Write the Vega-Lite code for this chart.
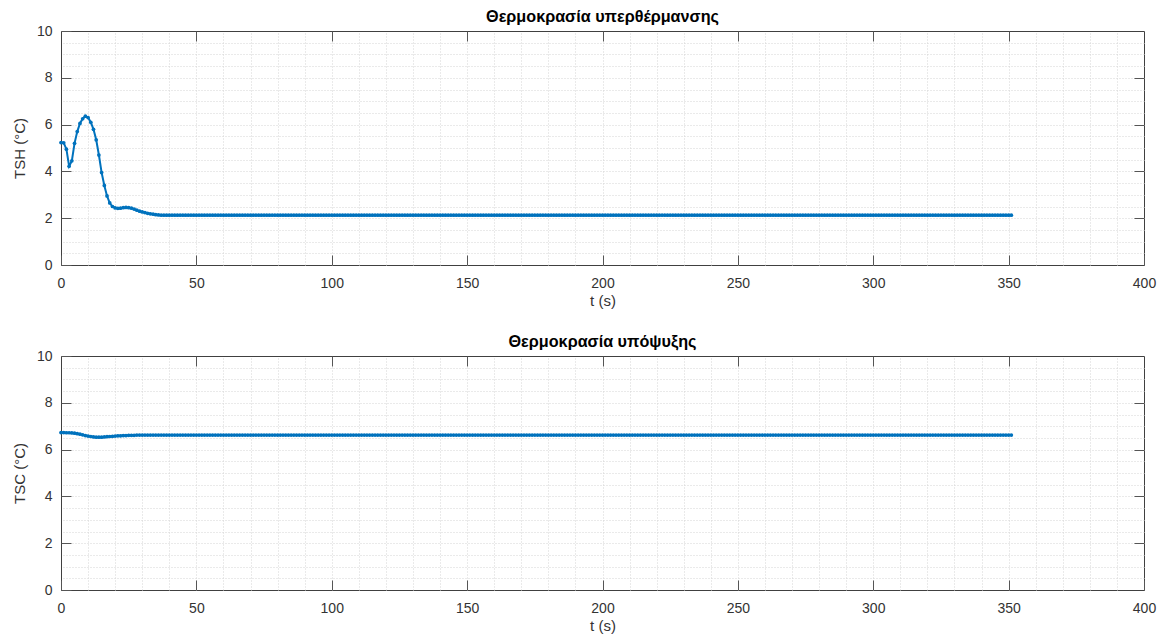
{
"$schema": "https://vega.github.io/schema/vega-lite/v6.json",
"background": "white",
"padding": {"left": 11, "top": 8, "right": 0, "bottom": 3},
"config": {
  "font": "Liberation Sans",
  "view": {"stroke": "#404040", "strokeWidth": 1},
  "axis": {"labelFont": "Liberation Sans", "labelFontSize": 14, "labelColor": "#333333", "labelFlush": false, "titleFont": "Liberation Sans", "titleFontSize": 15, "titleFontWeight": "normal", "titleColor": "#333333", "domain": false, "gridColor": "#d4d4d4", "gridDash": [1, 2], "gridWidth": 1, "tickColor": "#555555", "tickWidth": 1},
  "title": {"font": "Liberation Sans", "fontSize": 16.2, "fontWeight": "bold", "color": "#000000", "offset": -1, "frame": "group", "anchor": "middle"},
  "concat": {"spacing": 24}
},
"data": {"values": [
{"t":0,"sh":5.23,"sc":6.73},{"t":1,"sh":5.22,"sc":6.73},{"t":2,"sh":4.95,"sc":6.72},{"t":3,"sh":4.22,"sc":6.72},{"t":4,"sh":4.45,"sc":6.71},
{"t":5,"sh":5.2,"sc":6.7},{"t":6,"sh":5.7,"sc":6.68},{"t":7,"sh":6.05,"sc":6.66},{"t":8,"sh":6.25,"sc":6.63},{"t":9,"sh":6.36,"sc":6.6},
{"t":10,"sh":6.3,"sc":6.58},{"t":11,"sh":6.1,"sc":6.56},{"t":12,"sh":5.8,"sc":6.54},{"t":13,"sh":5.35,"sc":6.53},{"t":14,"sh":4.7,"sc":6.53},
{"t":15,"sh":3.95,"sc":6.53},{"t":16,"sh":3.4,"sc":6.54},{"t":17,"sh":2.95,"sc":6.55},{"t":18,"sh":2.65,"sc":6.56},{"t":19,"sh":2.5,"sc":6.57},
{"t":20,"sh":2.44,"sc":6.58},{"t":21,"sh":2.42,"sc":6.59},{"t":22,"sh":2.43,"sc":6.59},{"t":23,"sh":2.45,"sc":6.6},{"t":24,"sh":2.46,"sc":6.6},
{"t":25,"sh":2.45,"sc":6.61},{"t":26,"sh":2.43,"sc":6.61},{"t":27,"sh":2.39,"sc":6.61},{"t":28,"sh":2.34,"sc":6.62},{"t":29,"sh":2.3,"sc":6.62},
{"t":30,"sh":2.27,"sc":6.62},{"t":31,"sh":2.24,"sc":6.62},{"t":32,"sh":2.21,"sc":6.62},{"t":33,"sh":2.19,"sc":6.62},{"t":34,"sh":2.17,"sc":6.62},
{"t":35,"sh":2.15,"sc":6.62},{"t":36,"sh":2.14,"sc":6.62},{"t":37,"sh":2.13,"sc":6.62},{"t":38,"sh":2.13,"sc":6.62},{"t":39,"sh":2.13,"sc":6.62},
{"t":40,"sh":2.13,"sc":6.62},{"t":41,"sh":2.13,"sc":6.62},{"t":42,"sh":2.13,"sc":6.62},{"t":43,"sh":2.13,"sc":6.62},{"t":44,"sh":2.13,"sc":6.62},
{"t":45,"sh":2.13,"sc":6.62},{"t":46,"sh":2.13,"sc":6.62},{"t":47,"sh":2.13,"sc":6.62},{"t":48,"sh":2.13,"sc":6.62},{"t":49,"sh":2.13,"sc":6.62},
{"t":50,"sh":2.13,"sc":6.62},{"t":51,"sh":2.13,"sc":6.62},{"t":52,"sh":2.13,"sc":6.62},{"t":53,"sh":2.13,"sc":6.62},{"t":54,"sh":2.13,"sc":6.62},
{"t":55,"sh":2.13,"sc":6.62},{"t":56,"sh":2.13,"sc":6.62},{"t":57,"sh":2.13,"sc":6.62},{"t":58,"sh":2.13,"sc":6.62},{"t":59,"sh":2.13,"sc":6.62},
{"t":60,"sh":2.13,"sc":6.62},{"t":61,"sh":2.13,"sc":6.62},{"t":62,"sh":2.13,"sc":6.62},{"t":63,"sh":2.13,"sc":6.62},{"t":64,"sh":2.13,"sc":6.62},
{"t":65,"sh":2.13,"sc":6.62},{"t":66,"sh":2.13,"sc":6.62},{"t":67,"sh":2.13,"sc":6.62},{"t":68,"sh":2.13,"sc":6.62},{"t":69,"sh":2.13,"sc":6.62},
{"t":70,"sh":2.13,"sc":6.62},{"t":71,"sh":2.13,"sc":6.62},{"t":72,"sh":2.13,"sc":6.62},{"t":73,"sh":2.13,"sc":6.62},{"t":74,"sh":2.13,"sc":6.62},
{"t":75,"sh":2.13,"sc":6.62},{"t":76,"sh":2.13,"sc":6.62},{"t":77,"sh":2.13,"sc":6.62},{"t":78,"sh":2.13,"sc":6.62},{"t":79,"sh":2.13,"sc":6.62},
{"t":80,"sh":2.13,"sc":6.62},{"t":81,"sh":2.13,"sc":6.62},{"t":82,"sh":2.13,"sc":6.62},{"t":83,"sh":2.13,"sc":6.62},{"t":84,"sh":2.13,"sc":6.62},
{"t":85,"sh":2.13,"sc":6.62},{"t":86,"sh":2.13,"sc":6.62},{"t":87,"sh":2.13,"sc":6.62},{"t":88,"sh":2.13,"sc":6.62},{"t":89,"sh":2.13,"sc":6.62},
{"t":90,"sh":2.13,"sc":6.62},{"t":91,"sh":2.13,"sc":6.62},{"t":92,"sh":2.13,"sc":6.62},{"t":93,"sh":2.13,"sc":6.62},{"t":94,"sh":2.13,"sc":6.62},
{"t":95,"sh":2.13,"sc":6.62},{"t":96,"sh":2.13,"sc":6.62},{"t":97,"sh":2.13,"sc":6.62},{"t":98,"sh":2.13,"sc":6.62},{"t":99,"sh":2.13,"sc":6.62},
{"t":100,"sh":2.13,"sc":6.62},{"t":101,"sh":2.13,"sc":6.62},{"t":102,"sh":2.13,"sc":6.62},{"t":103,"sh":2.13,"sc":6.62},{"t":104,"sh":2.13,"sc":6.62},
{"t":105,"sh":2.13,"sc":6.62},{"t":106,"sh":2.13,"sc":6.62},{"t":107,"sh":2.13,"sc":6.62},{"t":108,"sh":2.13,"sc":6.62},{"t":109,"sh":2.13,"sc":6.62},
{"t":110,"sh":2.13,"sc":6.62},{"t":111,"sh":2.13,"sc":6.62},{"t":112,"sh":2.13,"sc":6.62},{"t":113,"sh":2.13,"sc":6.62},{"t":114,"sh":2.13,"sc":6.62},
{"t":115,"sh":2.13,"sc":6.62},{"t":116,"sh":2.13,"sc":6.62},{"t":117,"sh":2.13,"sc":6.62},{"t":118,"sh":2.13,"sc":6.62},{"t":119,"sh":2.13,"sc":6.62},
{"t":120,"sh":2.13,"sc":6.62},{"t":121,"sh":2.13,"sc":6.62},{"t":122,"sh":2.13,"sc":6.62},{"t":123,"sh":2.13,"sc":6.62},{"t":124,"sh":2.13,"sc":6.62},
{"t":125,"sh":2.13,"sc":6.62},{"t":126,"sh":2.13,"sc":6.62},{"t":127,"sh":2.13,"sc":6.62},{"t":128,"sh":2.13,"sc":6.62},{"t":129,"sh":2.13,"sc":6.62},
{"t":130,"sh":2.13,"sc":6.62},{"t":131,"sh":2.13,"sc":6.62},{"t":132,"sh":2.13,"sc":6.62},{"t":133,"sh":2.13,"sc":6.62},{"t":134,"sh":2.13,"sc":6.62},
{"t":135,"sh":2.13,"sc":6.62},{"t":136,"sh":2.13,"sc":6.62},{"t":137,"sh":2.13,"sc":6.62},{"t":138,"sh":2.13,"sc":6.62},{"t":139,"sh":2.13,"sc":6.62},
{"t":140,"sh":2.13,"sc":6.62},{"t":141,"sh":2.13,"sc":6.62},{"t":142,"sh":2.13,"sc":6.62},{"t":143,"sh":2.13,"sc":6.62},{"t":144,"sh":2.13,"sc":6.62},
{"t":145,"sh":2.13,"sc":6.62},{"t":146,"sh":2.13,"sc":6.62},{"t":147,"sh":2.13,"sc":6.62},{"t":148,"sh":2.13,"sc":6.62},{"t":149,"sh":2.13,"sc":6.62},
{"t":150,"sh":2.13,"sc":6.62},{"t":151,"sh":2.13,"sc":6.62},{"t":152,"sh":2.13,"sc":6.62},{"t":153,"sh":2.13,"sc":6.62},{"t":154,"sh":2.13,"sc":6.62},
{"t":155,"sh":2.13,"sc":6.62},{"t":156,"sh":2.13,"sc":6.62},{"t":157,"sh":2.13,"sc":6.62},{"t":158,"sh":2.13,"sc":6.62},{"t":159,"sh":2.13,"sc":6.62},
{"t":160,"sh":2.13,"sc":6.62},{"t":161,"sh":2.13,"sc":6.62},{"t":162,"sh":2.13,"sc":6.62},{"t":163,"sh":2.13,"sc":6.62},{"t":164,"sh":2.13,"sc":6.62},
{"t":165,"sh":2.13,"sc":6.62},{"t":166,"sh":2.13,"sc":6.62},{"t":167,"sh":2.13,"sc":6.62},{"t":168,"sh":2.13,"sc":6.62},{"t":169,"sh":2.13,"sc":6.62},
{"t":170,"sh":2.13,"sc":6.62},{"t":171,"sh":2.13,"sc":6.62},{"t":172,"sh":2.13,"sc":6.62},{"t":173,"sh":2.13,"sc":6.62},{"t":174,"sh":2.13,"sc":6.62},
{"t":175,"sh":2.13,"sc":6.62},{"t":176,"sh":2.13,"sc":6.62},{"t":177,"sh":2.13,"sc":6.62},{"t":178,"sh":2.13,"sc":6.62},{"t":179,"sh":2.13,"sc":6.62},
{"t":180,"sh":2.13,"sc":6.62},{"t":181,"sh":2.13,"sc":6.62},{"t":182,"sh":2.13,"sc":6.62},{"t":183,"sh":2.13,"sc":6.62},{"t":184,"sh":2.13,"sc":6.62},
{"t":185,"sh":2.13,"sc":6.62},{"t":186,"sh":2.13,"sc":6.62},{"t":187,"sh":2.13,"sc":6.62},{"t":188,"sh":2.13,"sc":6.62},{"t":189,"sh":2.13,"sc":6.62},
{"t":190,"sh":2.13,"sc":6.62},{"t":191,"sh":2.13,"sc":6.62},{"t":192,"sh":2.13,"sc":6.62},{"t":193,"sh":2.13,"sc":6.62},{"t":194,"sh":2.13,"sc":6.62},
{"t":195,"sh":2.13,"sc":6.62},{"t":196,"sh":2.13,"sc":6.62},{"t":197,"sh":2.13,"sc":6.62},{"t":198,"sh":2.13,"sc":6.62},{"t":199,"sh":2.13,"sc":6.62},
{"t":200,"sh":2.13,"sc":6.62},{"t":201,"sh":2.13,"sc":6.62},{"t":202,"sh":2.13,"sc":6.62},{"t":203,"sh":2.13,"sc":6.62},{"t":204,"sh":2.13,"sc":6.62},
{"t":205,"sh":2.13,"sc":6.62},{"t":206,"sh":2.13,"sc":6.62},{"t":207,"sh":2.13,"sc":6.62},{"t":208,"sh":2.13,"sc":6.62},{"t":209,"sh":2.13,"sc":6.62},
{"t":210,"sh":2.13,"sc":6.62},{"t":211,"sh":2.13,"sc":6.62},{"t":212,"sh":2.13,"sc":6.62},{"t":213,"sh":2.13,"sc":6.62},{"t":214,"sh":2.13,"sc":6.62},
{"t":215,"sh":2.13,"sc":6.62},{"t":216,"sh":2.13,"sc":6.62},{"t":217,"sh":2.13,"sc":6.62},{"t":218,"sh":2.13,"sc":6.62},{"t":219,"sh":2.13,"sc":6.62},
{"t":220,"sh":2.13,"sc":6.62},{"t":221,"sh":2.13,"sc":6.62},{"t":222,"sh":2.13,"sc":6.62},{"t":223,"sh":2.13,"sc":6.62},{"t":224,"sh":2.13,"sc":6.62},
{"t":225,"sh":2.13,"sc":6.62},{"t":226,"sh":2.13,"sc":6.62},{"t":227,"sh":2.13,"sc":6.62},{"t":228,"sh":2.13,"sc":6.62},{"t":229,"sh":2.13,"sc":6.62},
{"t":230,"sh":2.13,"sc":6.62},{"t":231,"sh":2.13,"sc":6.62},{"t":232,"sh":2.13,"sc":6.62},{"t":233,"sh":2.13,"sc":6.62},{"t":234,"sh":2.13,"sc":6.62},
{"t":235,"sh":2.13,"sc":6.62},{"t":236,"sh":2.13,"sc":6.62},{"t":237,"sh":2.13,"sc":6.62},{"t":238,"sh":2.13,"sc":6.62},{"t":239,"sh":2.13,"sc":6.62},
{"t":240,"sh":2.13,"sc":6.62},{"t":241,"sh":2.13,"sc":6.62},{"t":242,"sh":2.13,"sc":6.62},{"t":243,"sh":2.13,"sc":6.62},{"t":244,"sh":2.13,"sc":6.62},
{"t":245,"sh":2.13,"sc":6.62},{"t":246,"sh":2.13,"sc":6.62},{"t":247,"sh":2.13,"sc":6.62},{"t":248,"sh":2.13,"sc":6.62},{"t":249,"sh":2.13,"sc":6.62},
{"t":250,"sh":2.13,"sc":6.62},{"t":251,"sh":2.13,"sc":6.62},{"t":252,"sh":2.13,"sc":6.62},{"t":253,"sh":2.13,"sc":6.62},{"t":254,"sh":2.13,"sc":6.62},
{"t":255,"sh":2.13,"sc":6.62},{"t":256,"sh":2.13,"sc":6.62},{"t":257,"sh":2.13,"sc":6.62},{"t":258,"sh":2.13,"sc":6.62},{"t":259,"sh":2.13,"sc":6.62},
{"t":260,"sh":2.13,"sc":6.62},{"t":261,"sh":2.13,"sc":6.62},{"t":262,"sh":2.13,"sc":6.62},{"t":263,"sh":2.13,"sc":6.62},{"t":264,"sh":2.13,"sc":6.62},
{"t":265,"sh":2.13,"sc":6.62},{"t":266,"sh":2.13,"sc":6.62},{"t":267,"sh":2.13,"sc":6.62},{"t":268,"sh":2.13,"sc":6.62},{"t":269,"sh":2.13,"sc":6.62},
{"t":270,"sh":2.13,"sc":6.62},{"t":271,"sh":2.13,"sc":6.62},{"t":272,"sh":2.13,"sc":6.62},{"t":273,"sh":2.13,"sc":6.62},{"t":274,"sh":2.13,"sc":6.62},
{"t":275,"sh":2.13,"sc":6.62},{"t":276,"sh":2.13,"sc":6.62},{"t":277,"sh":2.13,"sc":6.62},{"t":278,"sh":2.13,"sc":6.62},{"t":279,"sh":2.13,"sc":6.62},
{"t":280,"sh":2.13,"sc":6.62},{"t":281,"sh":2.13,"sc":6.62},{"t":282,"sh":2.13,"sc":6.62},{"t":283,"sh":2.13,"sc":6.62},{"t":284,"sh":2.13,"sc":6.62},
{"t":285,"sh":2.13,"sc":6.62},{"t":286,"sh":2.13,"sc":6.62},{"t":287,"sh":2.13,"sc":6.62},{"t":288,"sh":2.13,"sc":6.62},{"t":289,"sh":2.13,"sc":6.62},
{"t":290,"sh":2.13,"sc":6.62},{"t":291,"sh":2.13,"sc":6.62},{"t":292,"sh":2.13,"sc":6.62},{"t":293,"sh":2.13,"sc":6.62},{"t":294,"sh":2.13,"sc":6.62},
{"t":295,"sh":2.13,"sc":6.62},{"t":296,"sh":2.13,"sc":6.62},{"t":297,"sh":2.13,"sc":6.62},{"t":298,"sh":2.13,"sc":6.62},{"t":299,"sh":2.13,"sc":6.62},
{"t":300,"sh":2.13,"sc":6.62},{"t":301,"sh":2.13,"sc":6.62},{"t":302,"sh":2.13,"sc":6.62},{"t":303,"sh":2.13,"sc":6.62},{"t":304,"sh":2.13,"sc":6.62},
{"t":305,"sh":2.13,"sc":6.62},{"t":306,"sh":2.13,"sc":6.62},{"t":307,"sh":2.13,"sc":6.62},{"t":308,"sh":2.13,"sc":6.62},{"t":309,"sh":2.13,"sc":6.62},
{"t":310,"sh":2.13,"sc":6.62},{"t":311,"sh":2.13,"sc":6.62},{"t":312,"sh":2.13,"sc":6.62},{"t":313,"sh":2.13,"sc":6.62},{"t":314,"sh":2.13,"sc":6.62},
{"t":315,"sh":2.13,"sc":6.62},{"t":316,"sh":2.13,"sc":6.62},{"t":317,"sh":2.13,"sc":6.62},{"t":318,"sh":2.13,"sc":6.62},{"t":319,"sh":2.13,"sc":6.62},
{"t":320,"sh":2.13,"sc":6.62},{"t":321,"sh":2.13,"sc":6.62},{"t":322,"sh":2.13,"sc":6.62},{"t":323,"sh":2.13,"sc":6.62},{"t":324,"sh":2.13,"sc":6.62},
{"t":325,"sh":2.13,"sc":6.62},{"t":326,"sh":2.13,"sc":6.62},{"t":327,"sh":2.13,"sc":6.62},{"t":328,"sh":2.13,"sc":6.62},{"t":329,"sh":2.13,"sc":6.62},
{"t":330,"sh":2.13,"sc":6.62},{"t":331,"sh":2.13,"sc":6.62},{"t":332,"sh":2.13,"sc":6.62},{"t":333,"sh":2.13,"sc":6.62},{"t":334,"sh":2.13,"sc":6.62},
{"t":335,"sh":2.13,"sc":6.62},{"t":336,"sh":2.13,"sc":6.62},{"t":337,"sh":2.13,"sc":6.62},{"t":338,"sh":2.13,"sc":6.62},{"t":339,"sh":2.13,"sc":6.62},
{"t":340,"sh":2.13,"sc":6.62},{"t":341,"sh":2.13,"sc":6.62},{"t":342,"sh":2.13,"sc":6.62},{"t":343,"sh":2.13,"sc":6.62},{"t":344,"sh":2.13,"sc":6.62},
{"t":345,"sh":2.13,"sc":6.62},{"t":346,"sh":2.13,"sc":6.62},{"t":347,"sh":2.13,"sc":6.62},{"t":348,"sh":2.13,"sc":6.62},{"t":349,"sh":2.13,"sc":6.62},
{"t":350,"sh":2.13,"sc":6.62},{"t":351,"sh":2.13,"sc":6.62}
]},
"vconcat": [
{
  "title": "Θερμοκρασία υπερθέρμανσης",
  "width": 1083, "height": 234,
  "layer": [
    {"mark": {"type": "line", "color": "#0072BD", "strokeWidth": 2},
     "encoding": {
       "x": {"field": "t", "type": "quantitative", "scale": {"domain": [0, 400], "nice": false}, "axis": {"orient": "top", "values": [10,20,30,40,50,60,70,80,90,100,110,120,130,140,150,160,170,180,190,200,210,220,230,240,250,260,270,280,290,300,310,320,330,340,350,360,370,380,390], "grid": true, "labels": false, "ticks": false, "domain": false, "title": null}},
       "y": {"field": "sh", "type": "quantitative", "scale": {"domain": [0, 10], "nice": false, "zero": false}, "axis": {"orient": "right", "values": [0.5,1,1.5,2,2.5,3,3.5,4,4.5,5,5.5,6,6.5,7,7.5,8,8.5,9,9.5], "grid": true, "labels": false, "ticks": false, "domain": false, "title": null}}
     }},
    {"mark": {"type": "point", "filled": true, "color": "#0072BD", "size": 14, "opacity": 1},
     "encoding": {
       "x": {"field": "t", "type": "quantitative", "scale": {"domain": [0, 400], "nice": false}, "axis": {"orient": "bottom", "values": [0,50,100,150,200,250,300,350,400], "grid": false, "tickSize": -10, "labelPadding": 21, "titlePadding": 3, "title": "t (s)"}},
       "y": {"field": "sh", "type": "quantitative", "scale": {"domain": [0, 10], "nice": false, "zero": false}, "axis": {"orient": "left", "values": [0,2,4,6,8,10], "grid": false, "tickSize": -10, "labelPadding": 19, "titlePadding": 9, "title": "TSH (°C)"}}
     }},
    {"mark": {"type": "point", "opacity": 0},
     "encoding": {
       "x": {"field": "t", "type": "quantitative", "scale": {"domain": [0, 400], "nice": false}, "axis": {"orient": "top", "values": [50,100,150,200,250,300,350], "grid": false, "labels": false, "tickSize": -10, "title": null}},
       "y": {"field": "sh", "type": "quantitative", "scale": {"domain": [0, 10], "nice": false, "zero": false}, "axis": {"orient": "right", "values": [2,4,6,8], "grid": false, "labels": false, "tickSize": -10, "title": null}}
     }}
  ],
  "resolve": {"axis": {"x": "independent", "y": "independent"}}
},
{
  "title": "Θερμοκρασία υπόψυξης",
  "width": 1083, "height": 234,
  "layer": [
    {"mark": {"type": "line", "color": "#0072BD", "strokeWidth": 2},
     "encoding": {
       "x": {"field": "t", "type": "quantitative", "scale": {"domain": [0, 400], "nice": false}, "axis": {"orient": "top", "values": [10,20,30,40,50,60,70,80,90,100,110,120,130,140,150,160,170,180,190,200,210,220,230,240,250,260,270,280,290,300,310,320,330,340,350,360,370,380,390], "grid": true, "labels": false, "ticks": false, "domain": false, "title": null}},
       "y": {"field": "sc", "type": "quantitative", "scale": {"domain": [0, 10], "nice": false, "zero": false}, "axis": {"orient": "right", "values": [0.5,1,1.5,2,2.5,3,3.5,4,4.5,5,5.5,6,6.5,7,7.5,8,8.5,9,9.5], "grid": true, "labels": false, "ticks": false, "domain": false, "title": null}}
     }},
    {"mark": {"type": "point", "filled": true, "color": "#0072BD", "size": 14, "opacity": 1},
     "encoding": {
       "x": {"field": "t", "type": "quantitative", "scale": {"domain": [0, 400], "nice": false}, "axis": {"orient": "bottom", "values": [0,50,100,150,200,250,300,350,400], "grid": false, "tickSize": -10, "labelPadding": 21, "titlePadding": 3, "title": "t (s)"}},
       "y": {"field": "sc", "type": "quantitative", "scale": {"domain": [0, 10], "nice": false, "zero": false}, "axis": {"orient": "left", "values": [0,2,4,6,8,10], "grid": false, "tickSize": -10, "labelPadding": 19, "titlePadding": 9, "title": "TSC (°C)"}}
     }},
    {"mark": {"type": "point", "opacity": 0},
     "encoding": {
       "x": {"field": "t", "type": "quantitative", "scale": {"domain": [0, 400], "nice": false}, "axis": {"orient": "top", "values": [50,100,150,200,250,300,350], "grid": false, "labels": false, "tickSize": -10, "title": null}},
       "y": {"field": "sc", "type": "quantitative", "scale": {"domain": [0, 10], "nice": false, "zero": false}, "axis": {"orient": "right", "values": [2,4,6,8], "grid": false, "labels": false, "tickSize": -10, "title": null}}
     }}
  ],
  "resolve": {"axis": {"x": "independent", "y": "independent"}}
}
]
}
